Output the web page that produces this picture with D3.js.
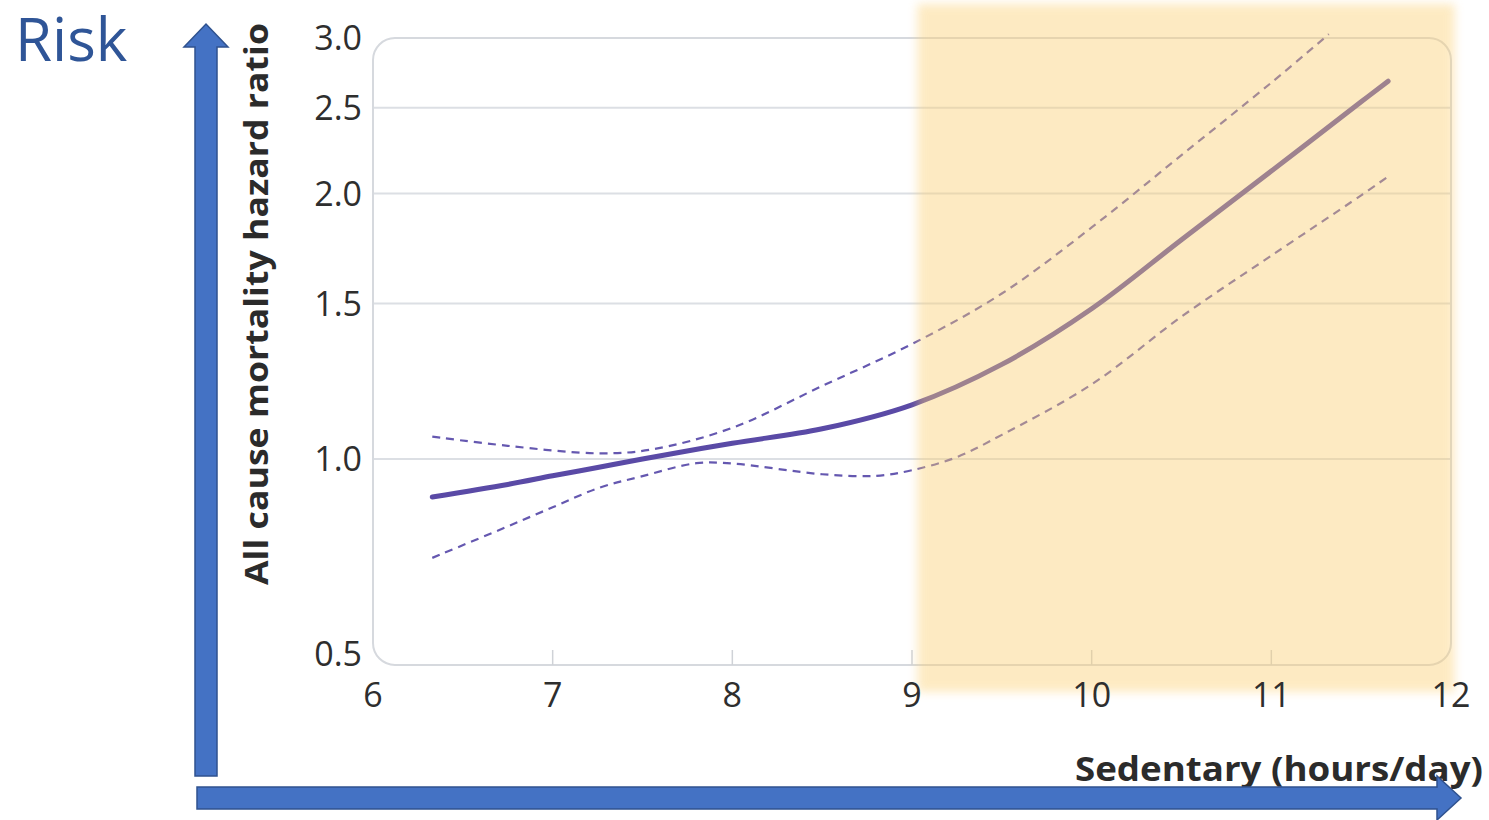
<!DOCTYPE html>
<html>
<head>
<meta charset="utf-8">
<script src="https://cdn.jsdelivr.net/npm/d3@7"></script>
<style>
  body { margin: 0; background: #fff; }
  text { font-family: "Open Sans", "DejaVu Sans", sans-serif; }
</style>
</head>
<body>
<script>
// hazard ratio curve
var hours = [6.33, 6.75, 7.0, 7.25, 7.5, 8.0, 8.5, 9.0, 9.5, 10.0, 10.5, 11.0, 11.5, 11.65];
var hazard = [0.88, 0.918, 0.945, 0.972, 1.0, 1.042, 1.082, 1.152, 1.28, 1.48, 1.772, 2.12, 2.54, 2.68];

// upper confidence band
var upperHours = [6.33, 6.75, 7.25, 7.55, 8.0, 8.5, 9.0, 9.5, 10.0, 10.5, 11.0, 11.32];
var upperCI = [1.06, 1.035, 1.015, 1.025, 1.085, 1.21, 1.35, 1.54, 1.83, 2.21, 2.67, 3.03];

// lower confidence band
var lowerHours = [6.33, 6.7, 7.0, 7.26, 7.5, 7.8, 8.0, 8.5, 8.8, 9.0, 9.25, 9.5, 10.0, 10.5, 11.0, 11.5, 11.65];
var lowerCI = [0.717, 0.787, 0.85, 0.908, 0.944, 0.986, 0.985, 0.95, 0.945, 0.963, 1.005, 1.065, 1.215, 1.45, 1.70, 1.99, 2.09];

// axes
var xTicks = [6, 7, 8, 9, 10, 11, 12];
var yTicks = [0.5, 1.0, 1.5, 2.0, 2.5, 3.0];
var gridValues = [1.0, 1.5, 2.0, 2.5];
var shadedHours = [9.03, 12.02];

var width = 1489, height = 820;

var svg = d3.select("body").append("svg")
  .attr("width", width)
  .attr("height", height);

// plot box
var box = { left: 373, right: 1451, top: 38, bottom: 665 };

var x = d3.scaleLinear()
  .domain([6, 12])
  .range([box.left, box.right]);

// log scale, but the bottom part (below 1.0) is squeezed in the original
var y = d3.scaleLog()
  .domain([0.5, 1, 3])
  .range([box.bottom, 459, box.top]);

var grey = "#dcdfe4";

// blur filter for the shaded band
var defs = svg.append("defs");
defs.append("filter")
  .attr("id", "soft")
  .attr("x", "-10%").attr("y", "-10%")
  .attr("width", "120%").attr("height", "120%")
  .append("feGaussianBlur")
  .attr("stdDeviation", 5);

// gridlines
svg.append("g")
  .selectAll("line")
  .data(gridValues)
  .join("line")
  .attr("x1", box.left)
  .attr("x2", box.right)
  .attr("y1", d => y(d))
  .attr("y2", d => y(d))
  .attr("stroke", grey)
  .attr("stroke-width", 2);

// the rounded frame
svg.append("rect")
  .attr("x", box.left)
  .attr("y", box.top)
  .attr("width", box.right - box.left)
  .attr("height", box.bottom - box.top)
  .attr("rx", 22)
  .attr("fill", "none")
  .attr("stroke", "#d6d9de")
  .attr("stroke-width", 2);

// small tick marks standing on the bottom edge
svg.append("g")
  .selectAll("line")
  .data(xTicks.slice(1, -1))
  .join("line")
  .attr("x1", d => x(d))
  .attr("x2", d => x(d))
  .attr("y1", box.bottom - 15)
  .attr("y2", box.bottom)
  .attr("stroke", "#cfd2d7")
  .attr("stroke-width", 1.5);

var line = d3.line()
  .x(d => x(d[0]))
  .y(d => y(d[1]))
  .curve(d3.curveCatmullRom.alpha(0.5));

// dashed confidence limits
svg.append("path")
  .attr("d", line(d3.zip(upperHours, upperCI)))
  .attr("fill", "none")
  .attr("stroke", "#6558b0")
  .attr("stroke-width", 2.2)
  .attr("stroke-dasharray", "8,6");

svg.append("path")
  .attr("d", line(d3.zip(lowerHours, lowerCI)))
  .attr("fill", "none")
  .attr("stroke", "#6558b0")
  .attr("stroke-width", 2.2)
  .attr("stroke-dasharray", "8,6");

// main estimate
svg.append("path")
  .attr("d", line(d3.zip(hours, hazard)))
  .attr("fill", "none")
  .attr("stroke", "#5a4aa6")
  .attr("stroke-width", 5)
  .attr("stroke-linecap", "round");

// shaded band on top, see-through
svg.append("rect")
  .attr("x", x(shadedHours[0]))
  .attr("y", 4)
  .attr("width", x(shadedHours[1]) - x(shadedHours[0]))
  .attr("height", 688)
  .attr("fill", "rgb(252,207,112)")
  .attr("opacity", 0.42)
  .attr("filter", "url(#soft)");

// y tick labels
svg.append("g")
  .selectAll("text")
  .data(yTicks)
  .join("text")
  .attr("x", 362)
  .attr("y", d => y(d) + (d === 0.5 ? -11 : 0))
  .attr("dy", "0.36em")
  .attr("text-anchor", "end")
  .attr("font-size", 34)
  .attr("fill", "#2e2e2e")
  .text(d => d.toFixed(1));

// x tick labels
svg.append("g")
  .selectAll("text")
  .data(xTicks)
  .join("text")
  .attr("x", d => x(d))
  .attr("y", 707)
  .attr("text-anchor", "middle")
  .attr("font-size", 34)
  .attr("fill", "#2e2e2e")
  .text(d => d);

// axis titles
svg.append("text")
  .attr("transform", "translate(268," + 304 + ") rotate(-90)")
  .attr("text-anchor", "middle")
  .attr("font-size", 32)
  .attr("font-weight", "bold")
  .attr("fill", "#2b2b2b")
  .attr("textLength", 562)
  .attr("lengthAdjust", "spacingAndGlyphs")
  .text("All cause mortality hazard ratio");

svg.append("text")
  .attr("x", 1075)
  .attr("y", 781)
  .attr("font-size", 34)
  .attr("font-weight", "bold")
  .attr("fill", "#2b2b2b")
  .attr("textLength", 408)
  .attr("lengthAdjust", "spacingAndGlyphs")
  .text("Sedentary (hours/day)");

svg.append("text")
  .attr("x", 15)
  .attr("y", 61)
  .attr("font-family", "Lato, 'Open Sans', sans-serif")
  .attr("font-size", 60)
  .attr("fill", "#2f5597")
  .text("Risk");

// the two big blue arrows
var upArrow = [[195, 776], [195, 47], [184, 47], [206, 24], [228, 47], [217, 47], [217, 776]];
var rightArrow = [[197, 787], [1437, 787], [1437, 776], [1461, 798], [1437, 820], [1437, 809], [197, 809]];

svg.selectAll("polygon.arrow")
  .data([upArrow, rightArrow])
  .join("polygon")
  .attr("class", "arrow")
  .attr("points", d => d.map(p => p.join(",")).join(" "))
  .attr("fill", "#4472c4")
  .attr("stroke", "#2f528f")
  .attr("stroke-width", 1.5);
</script>
</body>
</html>
